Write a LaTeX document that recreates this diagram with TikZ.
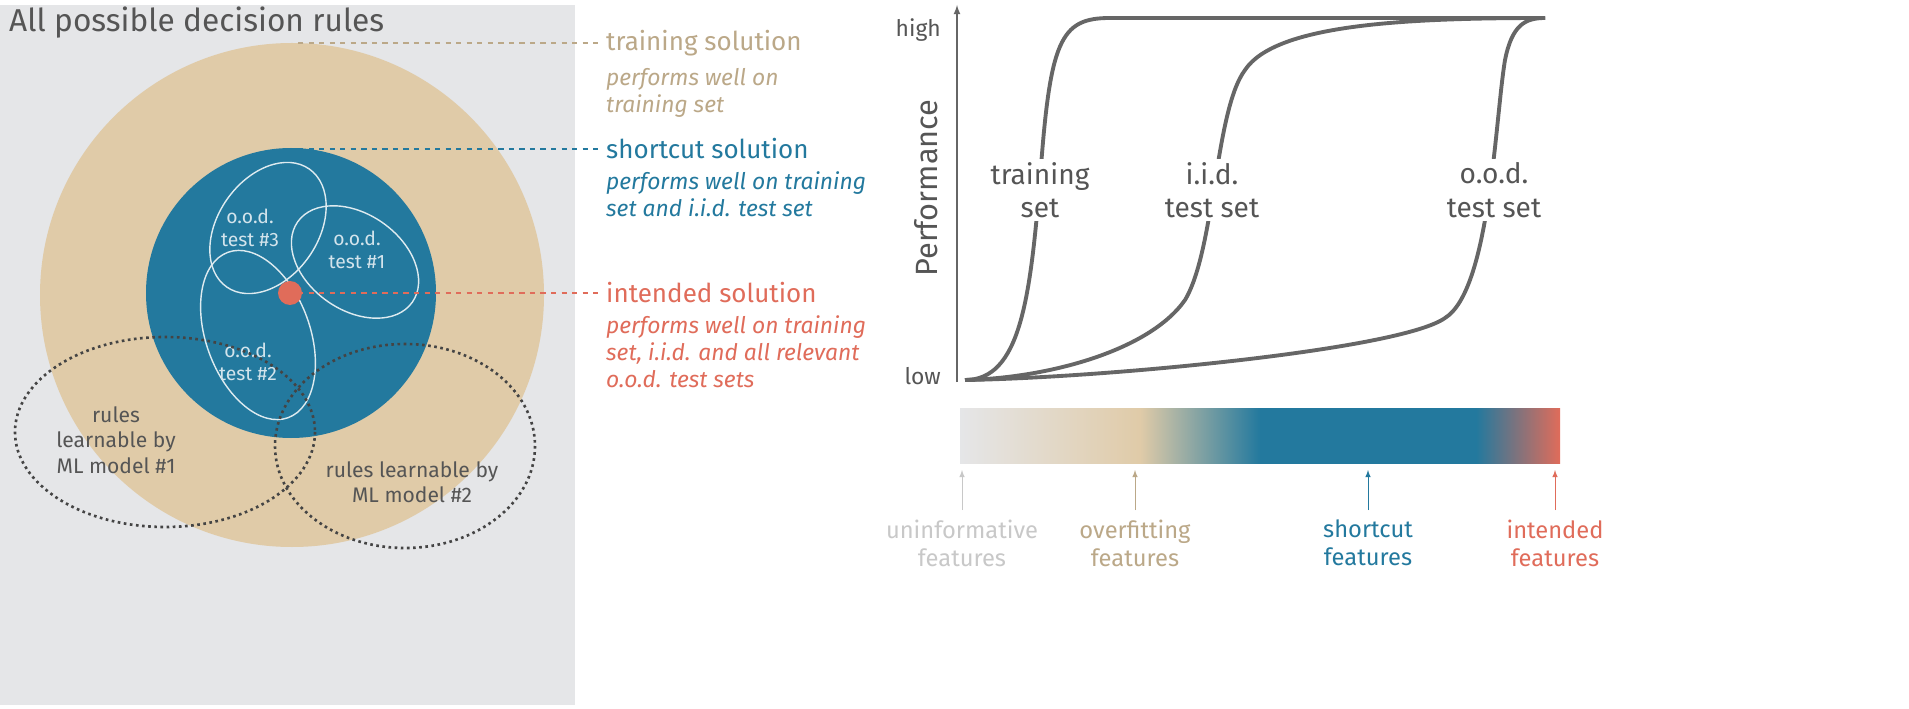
\documentclass[tikz,border=0pt]{standalone}
\usepackage{fontspec}
\setmainfont{Fira Sans}
\usetikzlibrary{positioning}
\definecolor{bggray}{HTML}{E5E6E8}
\definecolor{sand}{HTML}{E0CBA8}
\definecolor{sandtext}{HTML}{BBA888}
\definecolor{teal}{HTML}{23799E}
\definecolor{coral}{HTML}{E06C5A}
\definecolor{darktext}{HTML}{555555}
\definecolor{lighttext}{HTML}{C8C8C8}
\pgfdeclarehorizontalshading{featbar}{100bp}{color(0bp)=(bggray); color(25bp)=(bggray); color(40bp)=(sand); color(50bp)=(teal); color(68bp)=(teal); color(75bp)=(coral); color(100bp)=(coral)}
\tikzstyle{lead} = [dashed, thick]
\tikzstyle{head} = [anchor=west, font=\fontsize{14.8}{16}\selectfont]
\tikzstyle{sub} = [anchor=north west, align=left, font=\fontsize{13}{15.5}\itshape]
\tikzstyle{region} = [draw=white!85!teal, thick]
\tikzstyle{curve} = [line width=2.2pt, darktext!90]
\tikzstyle{plotlbl} = [fill=white, align=center, text=darktext, font=\fontsize{16}{19}\selectfont, inner sep=2pt]
\tikzstyle{feat} = [align=center, font=\fontsize{13.5}{16}\selectfont]
\begin{document}
\begin{tikzpicture}[x=0.02cm,y=-0.02cm]
\useasboundingbox[fill=white] (0,0) rectangle (1909,709);

% left: space of decision rules
\fill[bggray] (0,5) rectangle (575,705);
\node[anchor=north west, text=darktext, font=\fontsize{18}{20}\selectfont] (title) at (3,1) {All possible decision rules};
\fill[sand] (292,295) circle (252);
\fill[teal] (291,293) circle (145);
\draw[region, rotate around={55:(268,228)}] (268,228) ellipse (72 and 50);
\draw[region, rotate around={-35:(355,262)}] (355,262) ellipse (70 and 48);
\draw[region, rotate around={-70:(258,335)}] (258,335) ellipse (88 and 52);
\node[text=white!80!teal, align=center, font=\fontsize{11}{13}\selectfont] (t3) at (250,228) {o.o.d.\\test \#3};
\node[text=white!80!teal, align=center, font=\fontsize{11}{13}\selectfont] (t1) at (357,250) {o.o.d.\\test \#1};
\node[text=white!80!teal, align=center, font=\fontsize{11}{13}\selectfont] (t2) at (248,362) {o.o.d.\\test \#2};
\draw[darktext!80!black, line width=1.5pt, dotted] (165,432) ellipse (150 and 95);
\draw[darktext!80!black, line width=1.5pt, dotted] (405,446) ellipse (130 and 102);
\node[text=darktext, align=center, font=\fontsize{12}{14.5}\selectfont] (m1) at (116,440) {rules\\learnable by\\ML model \#1};
\node[text=darktext, align=center, font=\fontsize{12}{14.5}\selectfont] (m2) at (412,482) {rules learnable by\\ML model \#2};
\fill[coral] (290,293) circle (12);

% solutions
\coordinate (ps) at (298,43);
\coordinate (ss) at (298,149);
\coordinate (is) at (298,293);
\node[head, text=sandtext] (train) at (600,43) {training solution};
\node[sub, text=sandtext] at (train.south west) {performs well on\\training set};
\node[head, text=teal] (short) at (600,149) {shortcut solution};
\node[sub, text=teal] at (short.south west) {performs well on training\\set and i.i.d. test set};
\node[head, text=coral] (intend) at (600,293) {intended solution};
\node[sub, text=coral] at (intend.south west) {performs well on training\\set, i.i.d. and all relevant\\o.o.d. test sets};
\draw[lead, sandtext] (ps) -- (train.west);
\draw[lead, teal] (ss) -- (short.west);
\draw[lead, coral] (is) -- (intend.west);

% right: performance plot
\coordinate (origin) at (957,382);
\coordinate (ytop) at (957,5);
\draw[darktext!90, thick, -latex] (origin) -- (ytop);
\node[text=darktext, font=\fontsize{13}{15}\selectfont, anchor=east] (hi) at (947,30) {high};
\node[text=darktext, font=\fontsize{13}{15}\selectfont, anchor=east] (lo) at (947,376) {low};
\node[text=darktext, rotate=90, font=\fontsize{17.5}{19}\selectfont] (perf) at (926,188) {Performance};
\draw[curve] (965,380) .. controls (1020,380) and (1030,300) .. (1040,180) .. controls (1050,40) and (1060,18) .. (1110,18) -- (1545,18);
\draw[curve] (965,380) .. controls (1050,378) and (1150,350) .. (1185,300) .. controls (1215,250) and (1215,110) .. (1245,70) .. controls (1275,25) and (1400,18) .. (1545,18);
\draw[curve] (965,380) .. controls (1100,378) and (1400,350) .. (1445,318) .. controls (1490,290) and (1495,120) .. (1505,60) .. controls (1512,25) and (1525,18) .. (1545,18);
\node[plotlbl] (trs) at (1040,190) {training\\set};
\node[plotlbl] (iid) at (1212,190) {i.i.d.\\test set};
\node[plotlbl] (ood) at (1494,190) {o.o.d.\\test set};

% feature spectrum
\shade[shading=featbar] (960,408) rectangle (1560,463);
\foreach \x/\c/\nm/\lbl in {962/lighttext/f1/{uninformative\\features}, 1135/sandtext/f2/{overfitting\\features}, 1368/teal/f3/{shortcut\\features}, 1555/coral/f4/{intended\\features}}{
  \node[feat, text=\c] (\nm) at (\x,543) {\lbl};
  \coordinate (\nm top) at (\x,470);
  \draw[\c, -latex] (\x,510) -- (\nm top);
}
\end{tikzpicture}
\end{document}
